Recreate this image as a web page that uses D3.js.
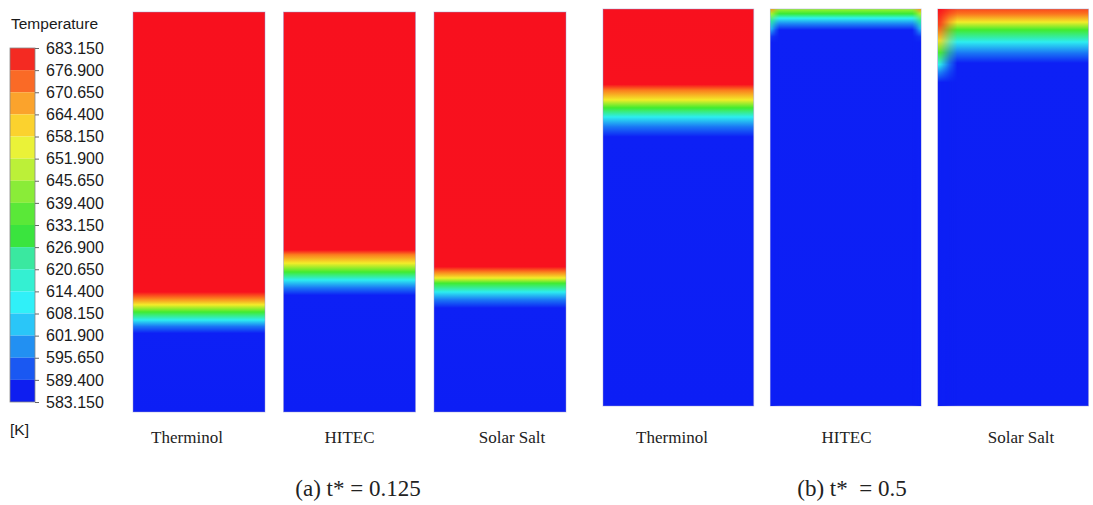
<!DOCTYPE html>
<html>
<head>
<meta charset="utf-8">
<script src="https://cdn.jsdelivr.net/npm/d3@7"></script>
<style>
  body { margin: 0; background: #fff; }
  svg { display: block; }
</style>
</head>
<body>
<div id="root"></div>
<script>
const tempTicks = [683.15, 676.9, 670.65, 664.4, 658.15, 651.9, 645.65, 639.4, 633.15, 626.9, 620.65, 614.4, 608.15, 601.9, 595.65, 589.4, 583.15];
const bandColors = ["#f42a22", "#fa6a26", "#fba32c", "#fbd22e", "#eaf238", "#bcf038", "#8aec38", "#5ae838", "#3ae43e", "#3ae8a0", "#34f0d2", "#30f0f8", "#2ac6f8", "#2290f2", "#1a58f2", "#0e1ef0"];
const fieldColors = ["#f8101e", "#fa4a1c", "#fb8c1f", "#fbc41f", "#f2f22a", "#c2f52c", "#86f22c", "#46ec2c", "#2ee840", "#2ee88a", "#2ef0c0", "#2ef5ee", "#28d2f5", "#1e9af5", "#1860f5", "#1030f5", "#0c1ef5"];

const fluids = ["Therminol", "HITEC", "Solar Salt"];
const captions = ["(a) t* = 0.125", "(b) t*  = 0.5"];

// temperature profiles: [depth (0 = tank top, 1 = tank bottom), temperature K]
const thermA = [[0, 683.15], [0.70, 683], [0.716, 672], [0.732, 659], [0.75, 638], [0.77, 613], [0.786, 598], [0.803, 584], [1, 583.15]];
const hitecA = [[0, 683.15], [0.595, 683], [0.607, 672], [0.628, 659], [0.65, 638], [0.67, 613], [0.69, 598], [0.708, 584], [1, 583.15]];
const solarA = [[0, 683.15], [0.637, 683], [0.65, 672], [0.665, 659], [0.678, 638], [0.70, 613], [0.72, 598], [0.74, 584], [1, 583.15]];
const thermB = [[0, 683.15], [0.19, 683], [0.205, 672], [0.229, 659], [0.249, 638], [0.272, 613], [0.297, 598], [0.322, 584], [1, 583.15]];
const hitecB = [[0, 648], [0.012, 636], [0.023, 614], [0.037, 600], [0.053, 584], [1, 583.15]];
const solarB = [[0, 677], [0.012, 673], [0.033, 659], [0.053, 638], [0.083, 613], [0.111, 598], [0.136, 584], [1, 583.15]];
// near-wall profiles (b)
const hitecBWall = [[0, 670], [0.012, 650], [0.03, 625], [0.05, 605], [0.07, 590], [0.085, 584], [1, 583.15]];
const solarBWall = [[0, 683], [0.04, 678], [0.08, 662], [0.11, 640], [0.14, 615], [0.16, 600], [0.185, 584], [1, 583.15]];

const W = 1093, H = 505;

const svg = d3.select("#root").append("svg")
    .attr("width", W)
    .attr("height", H)
    .style("font-family", "'Liberation Sans', Arial, sans-serif");

svg.append("rect").attr("width", W).attr("height", H).attr("fill", "#fff");

const defs = svg.append("defs");

const color = d3.scaleLinear()
    .domain(tempTicks)
    .range(fieldColors)
    .clamp(true);

// ---- legend ----
const lScale = d3.scaleLinear()
    .domain([583.15, 683.15])
    .range([402, 48]);

const legend = svg.append("g");

legend.selectAll(".band")
    .data(d3.pairs(tempTicks))
    .enter()
    .append("rect")
    .attr("class", "band")
    .attr("x", 10)
    .attr("width", 25)
    .attr("y", (d) => lScale(d[0]))
    .attr("height", (d) => lScale(d[1]) - lScale(d[0]))
    .attr("fill", (d, i) => bandColors[i]);

legend.append("rect")
    .attr("x", 10)
    .attr("y", lScale(683.15))
    .attr("width", 25)
    .attr("height", lScale(583.15) - lScale(683.15))
    .attr("fill", "none")
    .attr("stroke", "#888")
    .attr("stroke-width", 0.8);

const lAxis = legend.append("g")
    .attr("transform", "translate(35,0)")
    .call(d3.axisRight(lScale)
        .tickValues(tempTicks)
        .tickFormat(d3.format(".3f"))
        .tickSize(4)
        .tickPadding(7));

lAxis.select(".domain").remove();
lAxis.selectAll("line").attr("stroke", "#666");
lAxis.selectAll("text")
    .attr("fill", "#1a1a1a")
    .style("font-size", "16px")
    .style("font-family", "'Liberation Sans', Arial, sans-serif");

legend.append("text")
    .text("Temperature")
    .attr("x", 11)
    .attr("y", 29)
    .attr("fill", "#1a1a1a")
    .style("font-size", "15.5px");

legend.append("text")
    .text("[K]")
    .attr("x", 10)
    .attr("y", 435)
    .attr("fill", "#1a1a1a")
    .style("font-size", "15.5px");

// ---- tanks ----
const groups = [
    {
        x: d3.scaleBand().domain(fluids).range([133, 566]).paddingInner(0.123),
        y: d3.scaleLinear().domain([0, 1]).range([12, 412]),
        lx: d3.scalePoint().domain(fluids).range([187, 512]),
        profiles: [thermA, hitecA, solarA],
        walls: [],
        caption: captions[0],
        cx: 358
    },
    {
        x: d3.scaleBand().domain(fluids).range([603, 1088.5]).paddingInner(0.1),
        y: d3.scaleLinear().domain([0, 1]).range([9, 406]),
        lx: d3.scalePoint().domain(fluids).range([672, 1021]),
        profiles: [thermB, hitecB, solarB],
        walls: [
            {fluid: "HITEC", side: "left", frac: 0.06, profile: hitecBWall},
            {fluid: "HITEC", side: "right", frac: 0.06, profile: hitecBWall},
            {fluid: "Solar Salt", side: "left", frac: 0.13, profile: solarBWall}
        ],
        caption: captions[1],
        cx: 852
    }
];

function addGradient(id, profile) {
    const g = defs.append("linearGradient")
        .attr("id", id)
        .attr("x1", 0).attr("y1", 0)
        .attr("x2", 0).attr("y2", 1);
    g.selectAll("stop")
        .data(profile)
        .enter()
        .append("stop")
        .attr("offset", (d) => d[0])
        .attr("stop-color", (d) => color(d[1]));
}

["left", "right"].forEach((side) => {
    const f = defs.append("linearGradient")
        .attr("id", "fade-" + side)
        .attr("x1", side == "left" ? 0 : 1).attr("y1", 0)
        .attr("x2", side == "left" ? 1 : 0).attr("y2", 0);
    f.append("stop").attr("offset", 0).attr("stop-color", "#fff").attr("stop-opacity", 1);
    f.append("stop").attr("offset", 0.15).attr("stop-color", "#fff").attr("stop-opacity", 0.9);
    f.append("stop").attr("offset", 0.6).attr("stop-color", "#fff").attr("stop-opacity", 0.35);
    f.append("stop").attr("offset", 1).attr("stop-color", "#fff").attr("stop-opacity", 0);
});

groups.forEach((grp, gi) => {
    const gEl = svg.append("g");

    fluids.forEach((fl, fi) => {
        const id = "grad-" + gi + "-" + fi;
        addGradient(id, grp.profiles[fi]);

        gEl.append("rect")
            .attr("x", grp.x(fl))
            .attr("y", grp.y(0))
            .attr("width", grp.x.bandwidth())
            .attr("height", grp.y(1) - grp.y(0))
            .attr("fill", "url(#" + id + ")")
            .attr("stroke", "rgba(150,150,210,0.45)")
            .attr("stroke-width", 1);
    });

    grp.walls.forEach((w, wi) => {
        const id = "wall-" + gi + "-" + wi;
        addGradient(id, w.profile);
        const ww = grp.x.bandwidth() * w.frac;
        const wx = w.side == "left" ? grp.x(w.fluid) : grp.x(w.fluid) + grp.x.bandwidth() - ww;
        const mask = defs.append("mask").attr("id", "m-" + id);
        mask.append("rect")
            .attr("x", wx).attr("y", grp.y(0))
            .attr("width", ww).attr("height", grp.y(1) - grp.y(0))
            .attr("fill", "url(#fade-" + w.side + ")");
        gEl.append("rect")
            .attr("x", wx)
            .attr("y", grp.y(0))
            .attr("width", ww)
            .attr("height", grp.y(1) - grp.y(0))
            .attr("fill", "url(#" + id + ")")
            .attr("mask", "url(#m-" + id + ")");
    });

    gEl.selectAll(".fluid")
        .data(fluids)
        .enter()
        .append("text")
        .attr("class", "fluid")
        .text((d) => d)
        .attr("x", (d) => grp.lx(d))
        .attr("y", 443)
        .attr("text-anchor", "middle")
        .attr("fill", "#222")
        .style("font-family", "'Liberation Serif', 'Times New Roman', serif")
        .style("font-size", "17px");

    gEl.append("text")
        .text(grp.caption)
        .attr("x", grp.cx)
        .attr("y", 496)
        .attr("text-anchor", "middle")
        .attr("fill", "#222")
        .style("white-space", "pre")
        .attr("xml:space", "preserve")
        .style("font-family", "'Liberation Serif', 'Times New Roman', serif")
        .style("font-size", "23px");
});
</script>
</body>
</html>
